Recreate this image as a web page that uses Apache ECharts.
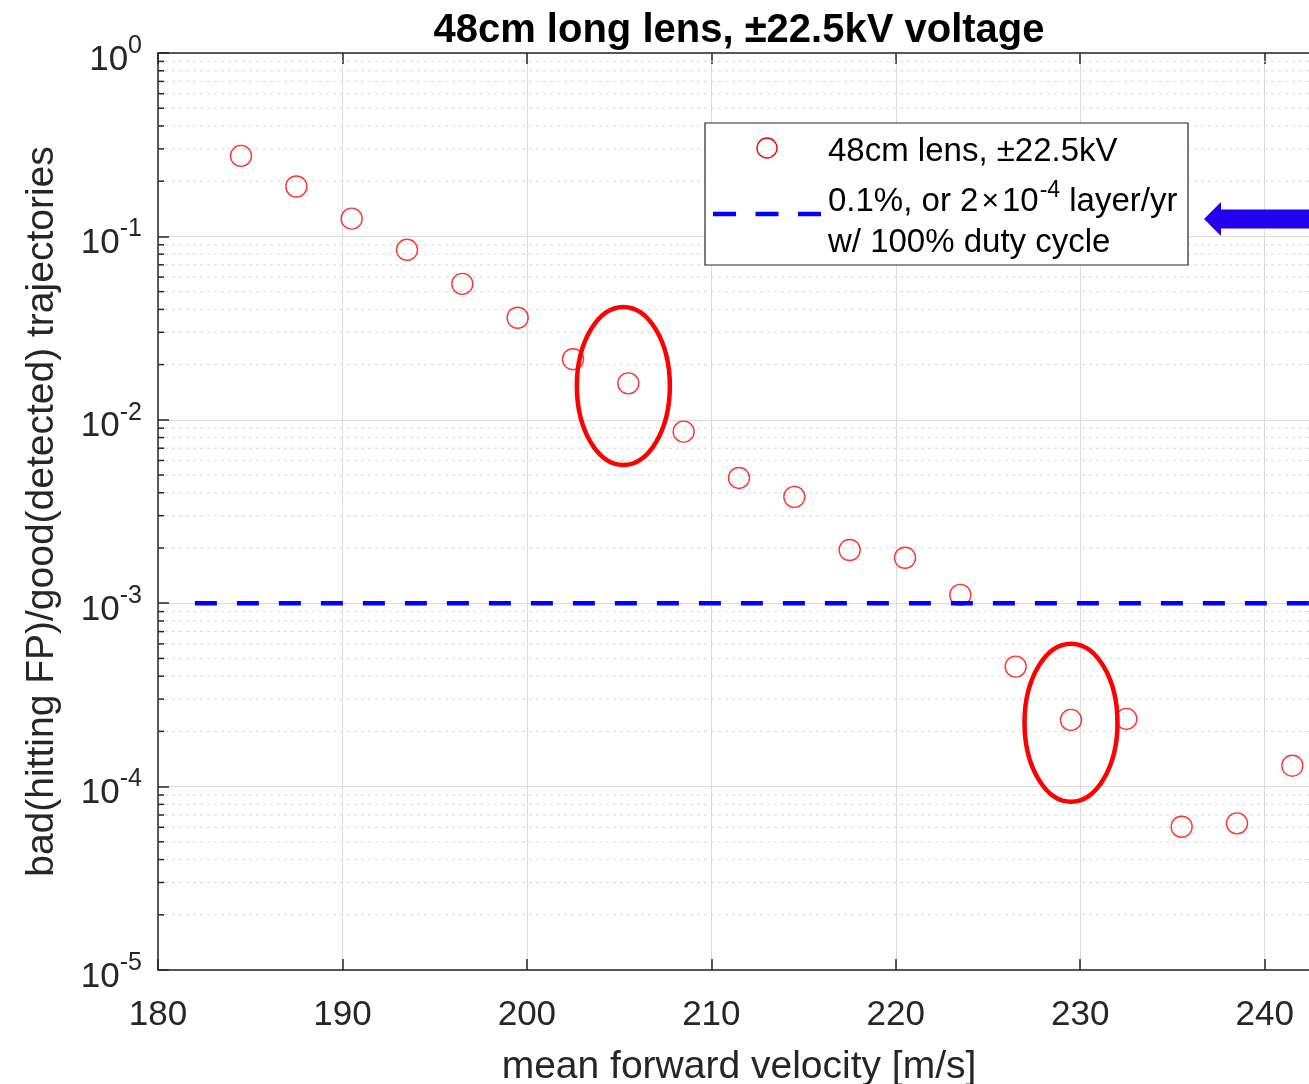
<!DOCTYPE html>
<html lang="en">
  <head>
    <meta charset="UTF-8" />
    <title>48cm long lens</title>
    <style>
      body {
        margin: 0;
      }
      #main {
        width: 1309px;
        height: 1084px;
        background-color: #ffffff;
      }
    </style>
  </head>
  <body>
    <div id="main"></div>
    <script src="https://cdn.jsdelivr.net/npm/echarts@6/dist/echarts.min.js"></script>

    <script>
      // mean forward velocity [m/s]
      const velocity = [
        184.5, 187.5, 190.5, 193.5, 196.5, 199.5, 202.5, 205.5, 208.5, 211.5,
        214.5, 217.5, 220.5, 223.5, 226.5, 229.5, 232.5, 235.5, 238.5, 241.5,
      ];
      // bad/good trajectory ratio
      const ratio = [
        0.275, 0.187, 0.125, 0.0845, 0.0551, 0.036, 0.0214, 0.0158, 0.00862, 0.00482,
        0.0038, 0.00195, 0.00177, 0.00111, 0.000451, 0.000231, 0.000234, 0.0000604,
        0.000063, 0.00013,
      ];
      // 0.1% threshold line
      const thresholdX = [182, 243];
      const thresholdY = 1e-3;
      // hand-drawn ellipses around two points [x, y]
      const ellipseCenters = [
        [205.23, 0.0153],
        [229.5, 0.000223],
      ];

      const FONT = "'Liberation Sans', Arial, Helvetica, sans-serif";
      const AX = "#262626";

      // minor log grid values 2..9 in each decade
      const minorVals = [];
      for (let e = -5; e < 0; e++) {
        for (let m = 2; m <= 9; m++) minorVals.push(m * Math.pow(10, e));
      }

      const chart = echarts.init(document.getElementById("main"));

      const option = {
        animation: false,
        backgroundColor: "#ffffff",
        title: {
          text: "48cm long lens, \u00b122.5kV voltage",
          left: 734,
          textAlign: "center",
          top: 6,
          textStyle: {
            fontFamily: FONT,
            fontSize: 40,
            fontWeight: "bold",
            color: "#000",
          },
        },
        grid: {
          left: 158,
          top: 53,
          width: 1162,
          height: 917,
          outerBoundsMode: "none",
          containLabel: false,
        },
        xAxis: [
          {
            type: "value",
            min: 180,
            max: 243,
            interval: 10,
            name: "mean forward velocity [m/s]",
            nameLocation: "middle",
            nameGap: 78,
            nameTextStyle: { fontFamily: FONT, fontSize: 39, color: AX },
            axisLine: { lineStyle: { color: AX, width: 1.5 } },
            axisTick: { inside: true, length: 11, lineStyle: { color: AX, width: 1.5 } },
            axisLabel: {
              fontFamily: FONT,
              fontSize: 35,
              color: AX,
              margin: 28,
              showMaxLabel: false,
            },
            splitLine: { show: true, lineStyle: { color: "#dcdcdc", width: 1 } },
          },
          {
            type: "value",
            position: "top",
            min: 180,
            max: 243,
            interval: 10,
            axisLine: { show: true, lineStyle: { color: AX, width: 1.5 } },
            axisTick: { show: true, inside: true, length: 11, lineStyle: { color: AX, width: 1.5 } },
            axisLabel: { show: false },
            splitLine: { show: false },
          },
        ],
        yAxis: {
          type: "log",
          logBase: 10,
          min: 1e-5,
          max: 1,
          splitNumber: 5,
          name: "bad(hitting FP)/good(detected) trajectories",
          nameLocation: "middle",
          nameGap: 96,
          nameTextStyle: { fontFamily: FONT, fontSize: 39, color: AX },
          axisLine: { show: true, lineStyle: { color: AX, width: 1.5 } },
          axisTick: { inside: true, length: 11, lineStyle: { color: AX, width: 1.5 } },
          splitLine: { show: true, lineStyle: { color: "#dcdcdc", width: 1 } },
          axisLabel: {
            margin: 16,
            formatter: function (v) {
              const e = Math.round(Math.log10(v));
              return "{b|10}{s|" + e + "}";
            },
            rich: {
              b: { fontFamily: FONT, fontSize: 35, color: AX, padding: [14, 0, 0, 0] },
              s: { fontFamily: FONT, fontSize: 25, color: AX, padding: [0, 0, 14, 0] },
            },
          },
        },
        series: [
          {
            name: "minor grid",
            type: "custom",
            silent: true,
            z: 1,
            data: minorVals.map((v) => [180, v]),
            renderItem: function (params, api) {
              const p = api.coord([180, api.value(1)]);
              const cs = params.coordSys;
              return {
                type: "group",
                children: [
                  {
                    type: "line",
                    shape: { x1: cs.x, y1: p[1], x2: cs.x + cs.width, y2: p[1] },
                    style: { stroke: "#d6d6d6", lineWidth: 1, lineDash: [3, 4] },
                  },
                  {
                    type: "line",
                    shape: { x1: cs.x, y1: p[1], x2: cs.x + 6, y2: p[1] },
                    style: { stroke: AX, lineWidth: 1.5 },
                  },
                ],
              };
            },
          },
          {
            name: "48cm lens, \u00b122.5kV",
            type: "scatter",
            silent: true,
            z: 3,
            symbol: "circle",
            symbolSize: 21,
            itemStyle: { color: "transparent", borderColor: "#ff0000", borderWidth: 1.4 },
            data: velocity.map((x, i) => [x, ratio[i]]),
          },
          {
            name: "0.1% threshold",
            type: "line",
            silent: true,
            z: 4,
            symbol: "none",
            lineStyle: { color: "#0000ff", width: 4.5, type: [22, 20] },
            data: thresholdX.map((x) => [x, thresholdY]),
          },
          {
            name: "highlight",
            type: "custom",
            silent: true,
            z: 5,
            clip: false,
            data: ellipseCenters,
            renderItem: function (params, api) {
              const c = api.coord([api.value(0), api.value(1)]);
              return {
                type: "ellipse",
                shape: { cx: c[0], cy: c[1], rx: 46.5, ry: 79 },
                style: { fill: null, stroke: "#ff0000", lineWidth: 4.5 },
              };
            },
          },
        ],
        graphic: [
          {
            type: "rect",
            z: 100,
            shape: { x: 705, y: 123, width: 483, height: 142 },
            style: { fill: "#ffffff", stroke: AX, lineWidth: 1.2 },
          },
          {
            type: "circle",
            z: 101,
            shape: { cx: 767, cy: 148, r: 10 },
            style: { fill: null, stroke: "#ff0000", lineWidth: 1.4 },
          },
          {
            type: "text",
            z: 101,
            x: 828,
            y: 152,
            style: {
              text: "48cm lens, \u00b122.5kV",
              fontFamily: FONT,
              fontSize: 33,
              fill: "#000",
              verticalAlign: "middle",
            },
          },
          {
            type: "line",
            z: 101,
            shape: { x1: 713, y1: 214, x2: 821, y2: 214 },
            style: { stroke: "#0000ff", lineWidth: 4.5, lineDash: [23, 19.5] },
          },
          {
            type: "text",
            z: 101,
            x: 828,
            y: 196,
            style: {
              text: "{a|0.1%, or 2}{x|\u00d7}{a|10}{s|-4}{a| layer/yr}",
              verticalAlign: "middle",
              rich: {
                a: { fontFamily: FONT, fontSize: 33, fill: "#000", padding: [12, 0, 0, 0] },
                x: { fontFamily: FONT, fontSize: 30, fill: "#000", padding: [12, 3, 0, 3] },
                s: { fontFamily: FONT, fontSize: 23, fill: "#000", padding: [0, 0, 10, 1] },
              },
            },
          },
          {
            type: "text",
            z: 101,
            x: 828,
            y: 243,
            style: {
              text: "w/ 100% duty cycle",
              fontFamily: FONT,
              fontSize: 33,
              fill: "#000",
              verticalAlign: "middle",
            },
          },
          {
            type: "polygon",
            z: 101,
            shape: {
              points: [
                [1204, 219],
                [1221, 202],
                [1221, 209.5],
                [1320, 209.5],
                [1320, 228.5],
                [1221, 228.5],
                [1221, 236],
              ],
            },
            style: { fill: "#2200ee" },
          },
        ],
      };

      chart.setOption(option);
    </script>
  </body>
</html>
